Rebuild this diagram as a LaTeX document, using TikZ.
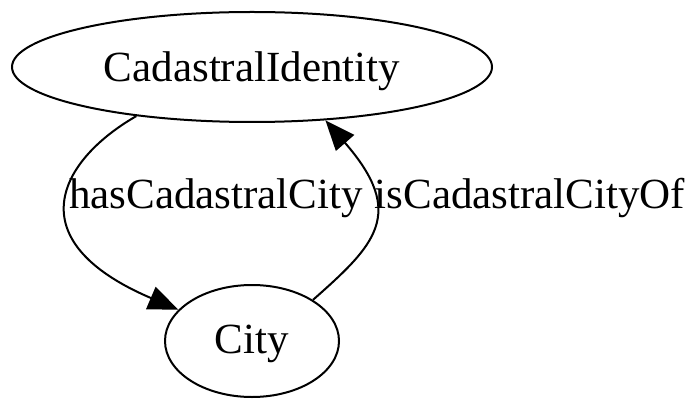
\documentclass[tikz,border=0pt]{standalone}
\usepackage{fontspec}
\setmainfont{Liberation Serif}
\usetikzlibrary{shapes.geometric,arrows.meta}
\begin{document}
\begin{tikzpicture}[x=1pt,y=1pt,
  gnode/.style={draw,ellipse,line width=2pt,inner sep=0pt,font=\fontsize{43}{50}\selectfont},
  gedge/.style={line width=2pt,-{Triangle[length=30pt,width=24pt]}},
  elabel/.style={anchor=base,inner sep=0pt,font=\fontsize{43}{50}\selectfont}]
\useasboundingbox (0,0) rectangle (700,410);
\node[gnode,minimum width=480pt,minimum height=110pt,text height=32pt,text depth=2pt] (ci) at (252,343) {CadastralIdentity};
\node[gnode,minimum width=174pt,minimum height=112pt,text height=26pt,text depth=2pt] (city) at (252,69) {City};
\draw[gedge] (ci.203) .. controls (60,250) and (15,170) .. (city.157);
\draw[gedge] (city.34) .. controls (375,165) and (407,196) .. (ci.324);
\node[elabel] (l1) at (216,202) {hasCadastralCity};
\node[elabel] (l2) at (530,202) {isCadastralCityOf};
\end{tikzpicture}
\end{document}
